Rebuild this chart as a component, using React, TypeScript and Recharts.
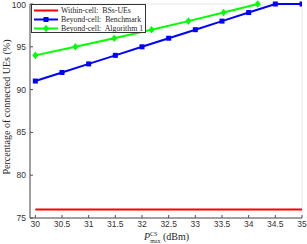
import { CartesianGrid, Label, Line, LineChart, XAxis, YAxis } from "recharts";

// x = P_max^CS (dBm), y = percentage of connected UEs
const powerGrid = [30, 30.5, 31, 31.5, 32, 32.5, 33, 33.5, 34, 34.5, 35];
const withinCell = [76, 76, 76, 76, 76, 76, 76, 76, 76, 76, 76];
const benchmark = [91, 92, 93, 94, 95, 96, 97, 98, 99, 100, 100];
const powerAlg = [30, 30.75, 31.48, 32.18, 32.87, 33.53, 34.17];
const algorithm1 = [94, 95, 96, 97, 98, 99, 100];

const xTicks = [30, 30.5, 31, 31.5, 32, 32.5, 33, 33.5, 34, 34.5, 35];
const yTicks = [75, 80, 85, 90, 95, 100];

const withinData = powerGrid.map((x, i) => ({ x, y: withinCell[i] }));
const benchData = powerGrid.map((x, i) => ({ x, y: benchmark[i] }));
const algData = powerAlg.map((x, i) => ({ x, y: algorithm1[i] }));

const AXIS = "#4d4d4d";
const GRID = "#e8e8e8";
const tickStyle = { fill: "#333", fontSize: 8.5, fontFamily: "Liberation Sans, Arial, sans-serif" };
const serif = "Liberation Serif, Times New Roman, serif";

function SquareDot(props: any) {
  const { cx, cy } = props;
  if (cx == null || cy == null) return null;
  return <rect x={cx - 2.5} y={cy - 2.5} width={5} height={5} fill="#0000ff" />;
}

function DiamondDot(props: any) {
  const { cx, cy } = props;
  if (cx == null || cy == null) return null;
  return (
    <polygon
      points={`${cx},${cy - 3.8} ${cx + 3},${cy} ${cx},${cy + 3.8} ${cx - 3},${cy}`}
      fill="#00ff00"
    />
  );
}

function YTitle(props: any) {
  const vb = props.viewBox || {};
  const cy = (vb.y ?? 0) + (vb.height ?? 0) / 2 - 4;
  return (
    <text
      x={6}
      y={cy}
      transform={`rotate(-90 6 ${cy})`}
      textAnchor="middle"
      dominantBaseline="central"
      fontFamily={serif}
      fontSize={10}
      fill="#262626"
    >
      Percentage of connected UEs (%)
    </text>
  );
}

function XTitle(props: any) {
  const vb = props.viewBox || {};
  const cx = (vb.x ?? 0) + (vb.width ?? 0) / 2 - 22;
  return (
    <text x={cx} y={240} fontFamily={serif} fontSize={10} fill="#262626">
      <tspan fontStyle="italic">P</tspan>
      <tspan fontSize={6} dy={-4}>CS</tspan>
      <tspan fontSize={6} dx={-7.3} dy={6.5}>max</tspan>
      <tspan dy={-2.5}> (dBm)</tspan>
    </text>
  );
}

const legendItems = [
  { label: "Within-cell:  BSs-UEs", color: "#ff0000", marker: "none" },
  { label: "Beyond-cell:  Benchmark", color: "#0000ff", marker: "square" },
  { label: "Beyond-cell:  Algorithm 1", color: "#00ff00", marker: "diamond" },
];

function ChartLegend() {
  return (
    <div
      style={{
        position: "absolute",
        left: 31,
        top: 4,
        width: 115,
        height: 29,
        background: "#fff",
        border: "0.8px solid #333",
        boxSizing: "border-box",
        fontFamily: serif,
        fontSize: 7.8,
        color: "#262626",
        paddingTop: 0.5,
      }}
    >
      {legendItems.map((it) => (
        <div key={it.label} style={{ display: "flex", alignItems: "center", height: 9.4 }}>
          <svg width={28} height={9} style={{ flex: "none" }}>
            <line x1={2} x2={26} y1={4.5} y2={4.5} stroke={it.color} strokeWidth={2} />
            {it.marker === "square" && <rect x={11.5} y={2} width={5} height={5} fill={it.color} />}
            {it.marker === "diamond" && (
              <polygon points="14,0.7 17,4.5 14,8.3 11,4.5" fill={it.color} />
            )}
          </svg>
          <span style={{ whiteSpace: "pre", marginLeft: 1, lineHeight: "9px" }}>{it.label}</span>
        </div>
      ))}
    </div>
  );
}

export default function App() {
  return (
    <div style={{ position: "relative", width: 307, height: 244, background: "#fff" }}>
      <style>{`body{margin:0}`}</style>
      <LineChart width={307} height={244} margin={{ top: 4, right: 5, left: 0, bottom: 0 }}>
        <CartesianGrid stroke={GRID} />
        <XAxis
          xAxisId="b"
          dataKey="x"
          type="number"
          domain={[29.9, 35]}
          allowDataOverflow
          ticks={xTicks}
          tick={tickStyle}
          height={26}
          stroke={AXIS}
          tickSize={-3}
          tickMargin={6}
        >
          <Label content={<XTitle />} />
        </XAxis>
        <XAxis
          xAxisId="t"
          orientation="top"
          dataKey="x"
          type="number"
          domain={[29.9, 35]}
          allowDataOverflow
          ticks={xTicks}
          tickFormatter={() => ""}
          height={0}
          stroke={AXIS}
          tickSize={-3}
        />
        <YAxis
          yAxisId="l"
          type="number"
          domain={[75, 100]}
          ticks={yTicks}
          tick={tickStyle}
          width={30}
          stroke={AXIS}
          tickSize={-3}
          tickMargin={7}
        >
          <Label content={<YTitle />} />
        </YAxis>
        <YAxis
          yAxisId="r"
          orientation="right"
          type="number"
          domain={[75, 100]}
          ticks={yTicks}
          tickFormatter={() => ""}
          width={0}
          stroke={AXIS}
          tickSize={-3}
        />
        <Line
          xAxisId="b"
          yAxisId="l"
          data={withinData}
          dataKey="y"
          stroke="#ff0000"
          strokeWidth={2}
          dot={false}
          isAnimationActive={false}
        />
        <Line
          xAxisId="b"
          yAxisId="l"
          data={benchData}
          dataKey="y"
          stroke="#0000ff"
          strokeWidth={2}
          dot={<SquareDot />}
          isAnimationActive={false}
        />
        <Line
          xAxisId="b"
          yAxisId="l"
          data={algData}
          dataKey="y"
          stroke="#00ff00"
          strokeWidth={2}
          dot={<DiamondDot />}
          isAnimationActive={false}
        />
      </LineChart>
      <ChartLegend />
    </div>
  );
}
